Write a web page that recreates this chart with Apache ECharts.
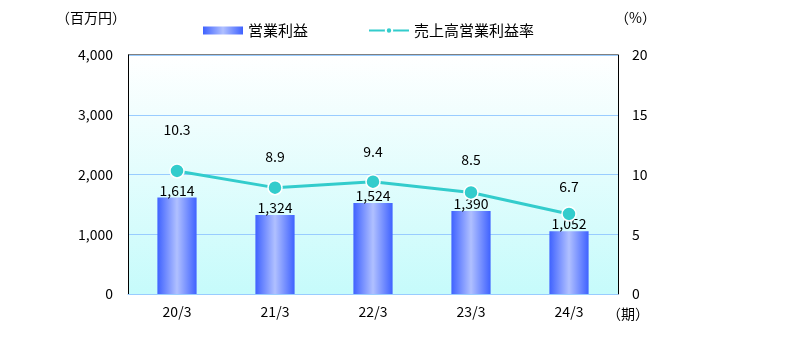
<!DOCTYPE html>
<html><head><meta charset="utf-8">
<script src="https://cdn.jsdelivr.net/npm/echarts@6/dist/echarts.min.js"></script>
<style>html,body{margin:0;padding:0;background:#fff}#c{width:801px;height:348px}</style>
</head><body><div id="c"></div>
<script>
const categories = ['20/3','21/3','22/3','23/3','24/3'];
const profit = [1614,1324,1524,1390,1052];
const margin = [10.3,8.9,9.4,8.5,6.7];
const leftTicks = [0,1000,2000,3000,4000];
const rightTicks = [0,5,10,15,20];

const font = '"Noto Sans CJK JP", "Noto Sans", sans-serif';
const labelGap = [26,16,15,18,12];
const chart = echarts.init(document.getElementById('c'));
const barGrad = new echarts.graphic.LinearGradient(0,0,1,0,[
  {offset:0,color:'#3f62ff'},{offset:0.5,color:'#b0c0ff'},{offset:1,color:'#3f62ff'}]);
chart.setOption({
  animation:false,
  textStyle:{fontFamily:font},
  legend:{top:18,left:198,itemGap:60,itemWidth:40,itemHeight:8,
    textStyle:{fontSize:15,color:'#000',fontFamily:font},
    data:[{name:'営業利益',icon:'rect'},{name:'売上高営業利益率'}]},
  grid:{left:128,right:183,top:55,bottom:54,show:true,borderWidth:0,
    backgroundColor:new echarts.graphic.LinearGradient(0,0,0,1,[{offset:0,color:'#ffffff'},{offset:1,color:'#c6fbfb'}])},
  graphic:[
    {type:'text',left:56,top:11,style:{text:'（百万円）',fill:'#000',font:'14px '+font}},
    {type:'text',left:615,top:11,style:{text:'（%）',fill:'#000',font:'14px '+font}},
    {type:'text',left:607,top:307,style:{text:'（期）',fill:'#000',font:'14px '+font}},
    {type:'line',shape:{x1:128,y1:55,x2:618,y2:55},style:{stroke:'#000',lineWidth:1}}
  ],
  xAxis:{type:'category',data:categories,
    axisLine:{lineStyle:{color:'#99ccff',width:1}},axisTick:{show:false},
    axisLabel:{fontSize:14,color:'#000',margin:11,fontFamily:font}},
  yAxis:[
    {type:'value',min:0,max:4000,interval:1000,
      axisLine:{show:true,lineStyle:{color:'#000'}},axisTick:{show:false},
      splitLine:{lineStyle:{color:'#99ccff'}},
      axisLabel:{fontSize:14,color:'#000',margin:15,fontFamily:font,
        formatter:v=>leftTicks.includes(v)?v.toLocaleString('en-US'):''}},
    {type:'value',min:0,max:20,interval:5,
      axisLine:{show:true,lineStyle:{color:'#000'}},axisTick:{show:false},
      splitLine:{show:false},
      axisLabel:{fontSize:14,color:'#000',margin:14,fontFamily:font,
        formatter:v=>rightTicks.includes(v)?String(v):''}}
  ],
  series:[
    {name:'営業利益',type:'bar',data:profit,barWidth:'40%',
      itemStyle:{color:barGrad},
      label:{show:true,position:'top',distance:0,fontSize:14,color:'#000',fontFamily:font,
        formatter:p=>p.value.toLocaleString('en-US')}},
    {name:'売上高営業利益率',type:'line',yAxisIndex:1,
      data:margin.map((v,i)=>({value:v,label:{distance:labelGap[i]}})),
      symbol:'circle',symbolSize:14,
      lineStyle:{color:'#33cccc',width:3},
      itemStyle:{color:'#33cccc',borderColor:'#fff',borderWidth:1.5},
      label:{show:true,position:'top',fontSize:14,color:'#000',fontFamily:font,
        formatter:p=>p.value.toFixed(1)},
      z:5}
  ]
});
</script></body></html>
